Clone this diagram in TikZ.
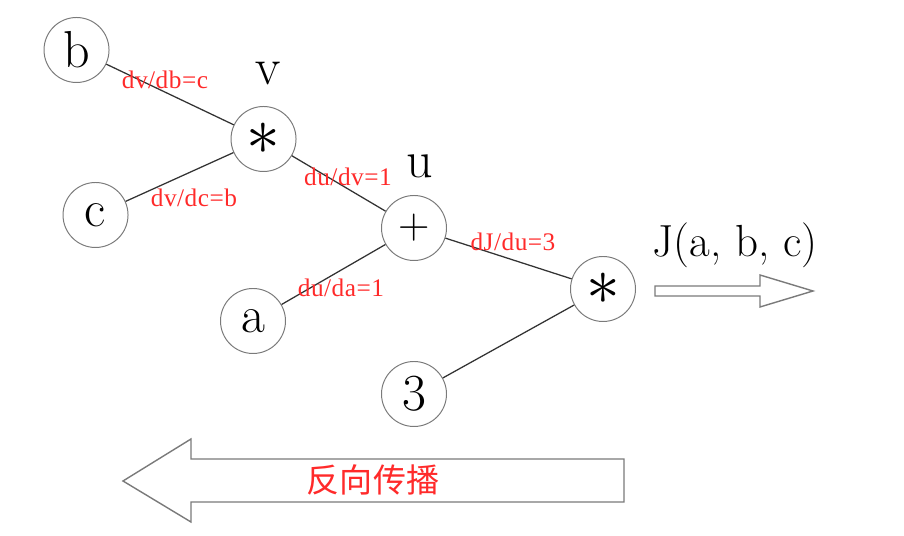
\RequirePackage{fix-cm}
\documentclass[tikz,border=0pt]{standalone}
\usepackage{fontspec}
\newfontfamily\cjkfont{Noto Sans CJK SC}
\newfontfamily\derivfont[LetterSpace=2]{Liberation Serif}
\usepackage{tikz}
\definecolor{GraphRed}{HTML}{FF2A2A}
\definecolor{GraphInk}{HTML}{333333}
\definecolor{GraphGray}{HTML}{7A7A7A}
\newcommand{\opsize}[1]{\fontsize{#1}{#1}\selectfont}

\begin{document}
\begin{tikzpicture}[
    varnode/.style={circle, draw=GraphGray, line width=0.7pt, minimum size=1.625cm,
      inner sep=0pt, font=\opsize{37}},
    deriv/.style={text=GraphRed, font=\derivfont\opsize{18}, inner sep=0pt},
    wire/.style={GraphInk, line width=0.9pt},
    hollow/.style={draw=GraphGray, line width=1pt, line join=miter}]
  \useasboundingbox (0,0) rectangle (22.6,13.4);
  % inputs and operations
  \node[varnode] (b) at (1.913,12.15) {b};
  \node[varnode] (c) at (2.388,8.025) {c};
  \node[varnode] (a) at (6.325,5.375) {a};
  \node[varnode] (three) at (10.35,3.55) {3};
  \node[varnode, font=\opsize{48}] (mulv) at (6.588,9.925) {$\ast$};
  \node[varnode, font=\opsize{31}] (plusu) at (10.35,7.70) {+};
  \node[varnode, font=\opsize{48}] (mulj) at (15.075,6.175) {$\ast$};
  \foreach \from/\to in {b/mulv, c/mulv, mulv/plusu, a/plusu, plusu/mulj, three/mulj}
    {\draw[wire] (\from) -- (\to);}
  % intermediate names
  \node[font=\opsize{37}, inner sep=0pt] (vname) at (6.70,11.55) {v};
  \node[font=\opsize{37}, inner sep=0pt] (uname) at (10.50,9.25) {u};
  % local derivatives
  \node[deriv] (dvdb) at (4.125,11.40) {dv/db=c};
  \node[deriv] (dvdc) at (4.850,8.45) {dv/dc=b};
  \node[deriv] (dudv) at (8.700,8.975) {du/dv=1};
  \node[deriv] (duda) at (8.525,6.20) {du/da=1};
  \node[deriv] (dJdu) at (12.825,7.35) {dJ/du=3};
  % forward output
  \draw[hollow] (16.375,6.25) -- (19.0,6.25) -- (19.0,6.525) -- (20.325,6.125)
    -- (19.0,5.725) -- (19.0,6.0) -- (16.375,6.0) -- cycle;
  \node[font=\opsize{32}, inner sep=0pt] (output) at (18.375,7.275) {J(a, b, c)};
  % backward pass
  \draw[hollow] (15.6,1.925) -- (4.775,1.925) -- (4.775,2.425) -- (3.075,1.375)
    -- (4.775,0.35) -- (4.775,0.85) -- (15.6,0.85) -- cycle;
  \node[text=GraphRed, font=\cjkfont\opsize{23.5}, inner sep=0pt] (backprop) at (9.325,1.40) {反向传播};
\end{tikzpicture}
\end{document}
